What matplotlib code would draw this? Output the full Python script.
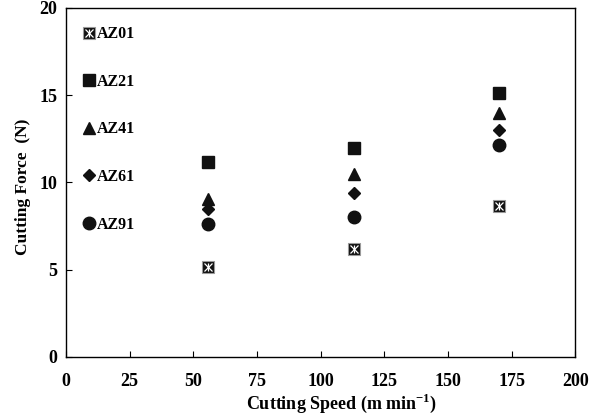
import matplotlib
matplotlib.use("Agg")
import matplotlib.pyplot as plt
from matplotlib.legend_handler import HandlerTuple

speeds = [56, 113, 170]
az01 = [5.15, 6.2, 8.65]
az21 = [11.15, 12.0, 15.1]
az41 = [9.05, 10.5, 14.0]
az61 = [8.5, 9.4, 13.0]
az91 = [7.6, 8.0, 12.15]

xticks = [0, 25, 50, 75, 100, 125, 150, 175, 200]
yticks = [0, 5, 10, 15, 20]

plt.rcParams['font.family'] = ['Liberation Serif', 'DejaVu Serif']
plt.rcParams['font.weight'] = 'bold'
plt.rcParams['mathtext.fontset'] = 'custom'
plt.rcParams['mathtext.rm'] = 'Liberation Serif:bold'
plt.rcParams['mathtext.bf'] = 'Liberation Serif:bold'

fig = plt.figure(figsize=(6.10, 4.17), dpi=100)
ax = fig.add_axes([0.108, 0.144, 0.835, 0.837])

ms = 8.5
h01a, = ax.plot(speeds, az01, 's', color='#111111', mec='#999999', mew=0.8, ms=ms, ls='none')
h01b, = ax.plot(speeds, az01, 'x', color='white', mew=0.9, ms=ms * 0.75, ls='none')
h01c, = ax.plot(speeds, az01, '|', color='white', mew=0.9, ms=ms * 0.75, ls='none')
h21, = ax.plot(speeds, az21, 's', color='#111111', ms=ms, ls='none')
h41, = ax.plot(speeds, az41, '^', color='#111111', ms=ms + 0.5, ls='none')
h61, = ax.plot(speeds, az61, 'D', color='#111111', ms=ms - 2.0, ls='none')
h91, = ax.plot(speeds, az91, 'o', color='#111111', ms=ms + 0.5, ls='none')

leg = ax.legend([(h01a, h01b, h01c), h21, h41, h61, h91],
                ['AZ01', 'AZ21', 'AZ41', 'AZ61', 'AZ91'],
                handler_map={tuple: HandlerTuple(ndivide=1, pad=0)},
                loc='upper left', bbox_to_anchor=(-0.012, 1.012), frameon=False,
                handlelength=0.8, handletextpad=0.1, labelspacing=1.98,
                borderaxespad=1.0, prop={'weight': 'bold', 'size': 11.5})

ax.set_xlim(0, 200)
ax.set_ylim(0, 20)
ax.set_xticks(xticks)
ax.set_yticks(yticks)
ax.tick_params(axis='x', direction='in', length=4, width=0.8, labelsize=13, pad=11.5)
ax.tick_params(axis='y', direction='in', length=4, width=0.8, labelsize=13, pad=6)
for lbl in ax.get_xticklabels() + ax.get_yticklabels():
    lbl.set_fontweight('bold')
for s in ax.spines.values():
    s.set_linewidth(1.0)

ax.set_xlabel('Cutting Speed (m min$^{\\mathbf{-1}}$)', fontsize=13, fontweight='bold')
ax.set_ylabel('Cutting Force  (N)', fontsize=12.5, fontweight='bold')
ax.xaxis.set_label_coords(0.542, -0.1)
ax.yaxis.set_label_coords(-0.068, 0.487)

fig.savefig('out.png', dpi=100)
